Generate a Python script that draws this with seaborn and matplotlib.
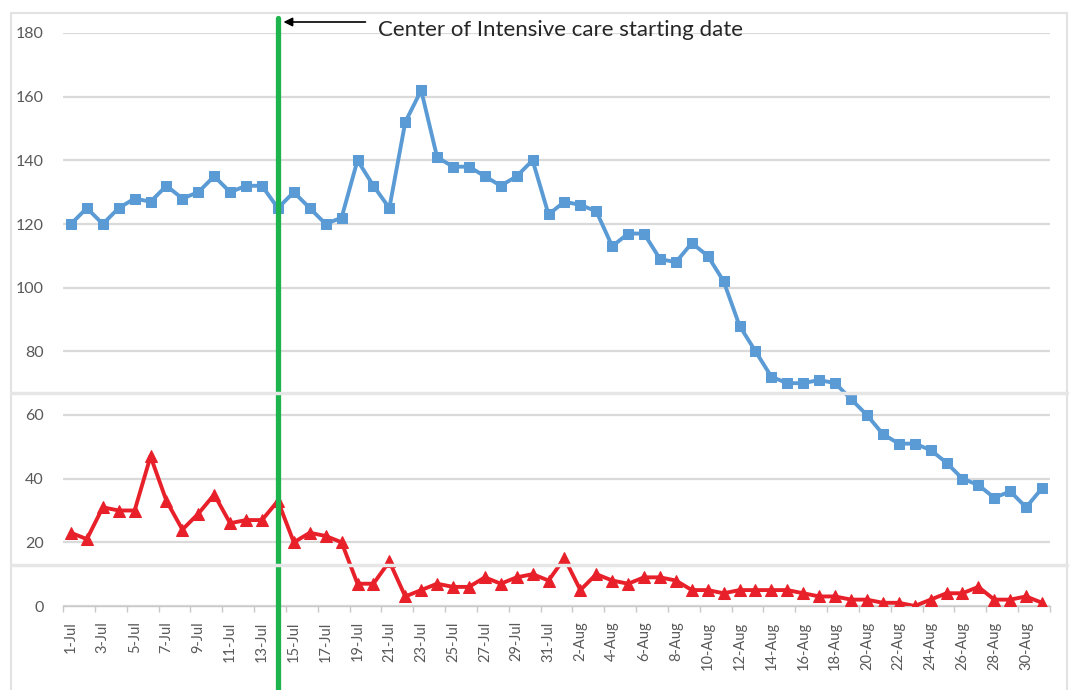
import matplotlib
matplotlib.use("Agg")
import matplotlib.pyplot as plt
import seaborn as sns
import pandas as pd
from matplotlib.patches import Rectangle
from matplotlib.lines import Line2D
from matplotlib.ticker import FixedLocator
import matplotlib.transforms as mtransforms

# ---- data ----
dates = [f"{d}-Jul" for d in range(1, 32)] + [f"{d}-Aug" for d in range(1, 32)]
blue_values = [120, 125, 120, 125, 128, 127, 132, 128, 130, 135, 130, 132, 132, 125, 130, 125,
               120, 122, 140, 132, 125, 152, 162, 141, 138, 138, 135, 132, 135, 140, 123,
               127, 126, 124, 113, 117, 117, 109, 108, 114, 110, 102, 88, 80, 72, 70, 70,
               71, 70, 65, 60, 54, 51, 51, 49, 45, 40, 38, 34, 36, 31, 37]
red_values = [23, 21, 31, 30, 30, 47, 33, 24, 29, 35, 26, 27, 27, 33, 20, 23,
              22, 20, 7, 7, 14, 3, 5, 7, 6, 6, 9, 7, 9, 10, 8,
              15, 5, 10, 8, 7, 9, 9, 8, 5, 5, 4, 5, 5, 5, 5, 4,
              3, 3, 2, 2, 1, 1, 0, 2, 4, 4, 6, 2, 2, 3, 1]
yticks = [0, 20, 40, 60, 80, 100, 120, 140, 160, 180]
event_date = "14-Jul"
annotation_text = "Center of Intensive care starting date"

df = pd.DataFrame({"idx": range(len(dates)), "date": dates,
                   "blue": blue_values, "red": red_values})

sns.set_theme(style="white")
plt.rcParams["font.family"] = ["Lato", "DejaVu Sans"]

W, H = 1075, 690
fig = plt.figure(figsize=(W / 100, H / 100), dpi=100)
fig.patch.set_facecolor("white")
ax = fig.add_axes([63 / W, (H - 606) / H, 987 / W, 573 / H])

# outer frame and seams
fig.add_artist(Rectangle((11 / W, -0.01), (1067 - 11) / W, (H - 13) / H + 0.01,
                         transform=fig.transFigure, fill=False,
                         edgecolor="#e2e2e2", lw=1.5))
for yy in (393, 565):
    fig.add_artist(Line2D([11 / W, 1067 / W], [1 - yy / H] * 2,
                          transform=fig.transFigure, color="#e6e6e6", lw=2.5))

sns.lineplot(data=df, x="idx", y="blue", ax=ax, color="#5b9bd5", lw=2.8,
             marker="s", markersize=7.5, markeredgecolor="#5b9bd5", zorder=3)
sns.lineplot(data=df, x="idx", y="red", ax=ax, color="#e8202a", lw=2.8,
             marker="^", markersize=9, markeredgecolor="#e8202a", zorder=3)

ax.set_xlim(-0.5, len(dates) - 0.5)
ax.set_ylim(0, 180)
ax.set_xlabel("")
ax.set_ylabel("")

# grid
ax.set_yticks(yticks)
ax.yaxis.grid(True, color="#dadada", lw=1.6)
ax.set_axisbelow(True)
ax.tick_params(axis="y", length=0, pad=14, labelsize=11.5, labelcolor="#595959")

major = list(range(0, len(dates), 2))
ax.set_xticks(major)
ax.set_xticklabels([dates[i] for i in major], rotation=90, va="top", ha="center")
ax.tick_params(axis="x", which="major", length=0, pad=11, labelsize=10.5, labelcolor="#595959")
ax.xaxis.set_minor_locator(FixedLocator([i - 0.5 for i in major] + [len(dates) - 0.5]))
ax.tick_params(axis="x", which="minor", length=4, width=1, color="#c8c8c8", direction="out", bottom=True)

for s in ("top", "right", "left"):
    ax.spines[s].set_visible(False)
ax.spines["bottom"].set_color("#c8c8c8")
ax.spines["bottom"].set_linewidth(1)

# green vertical line
ex = dates.index(event_date)
ax.axvline(ex, ymin=-84 / 573, ymax=(606 - 18) / 573, color="#1db34d", lw=3.8,
           clip_on=False, zorder=4)

# annotation arrow and text
trans = mtransforms.blended_transform_factory(ax.transData, ax.transAxes)
ya = (606 - 22) / 573
ax.annotate("", xy=(ex + 0.35, ya), xycoords=trans, xytext=(ex + 5.5, ya), textcoords=trans,
            arrowprops=dict(arrowstyle="-|>", color="black", lw=1.2, mutation_scale=13,
                            shrinkA=0, shrinkB=0),
            annotation_clip=False)
ax.text(ex + 6.3, (606 - 30) / 573, annotation_text, transform=trans, fontsize=16,
        color="#262626", ha="left", va="center", clip_on=False)

fig.savefig("out.png", dpi=100, facecolor="white")
